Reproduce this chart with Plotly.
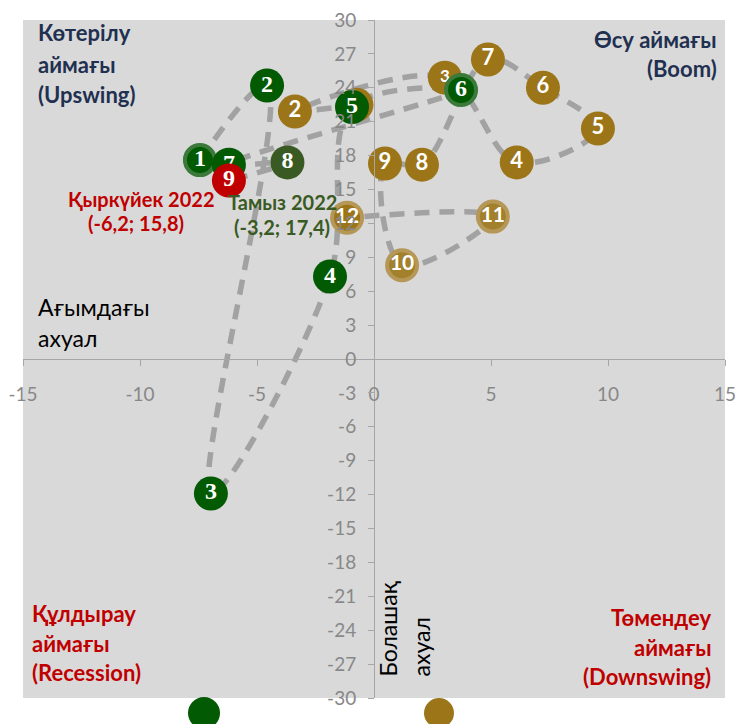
import plotly.graph_objects as go

# ---------------- data ----------------
green_labels = ["1", "2", "3", "4", "5", "6", "7", "8", "9"]
green_x = [-7.44, -4.57, -6.97, -1.88, -0.94, 3.72, -6.2, -3.7, -6.2]
green_y = [17.6, 24.2, -11.9, 7.3, 22.3, 23.8, 17.2, 17.4, 15.8]

gold_labels = ["1", "2", "3", "4", "5", "6", "7", "8", "9", "10", "11", "12"]
gold_x = [-0.75, -3.38, 3.03, 6.1, 9.57, 7.22, 4.87, 2.05, 0.47, 1.2, 5.08, -1.15]
gold_y = [22.5, 21.9, 24.9, 17.4, 20.4, 24.0, 26.5, 17.2, 17.3, 8.3, 12.6, 12.5]

x_ticks = [-15, -10, -5, 0, 5, 10, 15]
y_ticks = list(range(-30, 31, 3))

# ---------------- styling ----------------
W, H = 737, 724
PL, PR, PT, PB = 23, 725, 20, 698  # plot area in pixels


def xp(px):
    return (px - PL) / (PR - PL)


def yp(py):
    return (PB - py) / (PB - PT)


GREEN = "#025A02"
GREEN8 = "#3A5A24"
RED = "#C00000"
GOLD = "#9B7518"
LINE = "#A2A2A2"
SANS = "Lato, 'Noto Sans', sans-serif"
SERIF = "'Liberation Serif', 'DejaVu Serif', serif"

green_fill = [GREEN, GREEN, GREEN, GREEN, GREEN, GREEN, GREEN, GREEN8, RED]
green_ring = ["#3C7A3C", GREEN, GREEN, GREEN, GREEN,
              "#3C7A3C", GREEN, GREEN8, RED]
green_rw = [4, 0, 0, 0, 0, 4, 0, 0, 0]
green_sz = [30, 34, 34, 34, 34, 30, 34, 34, 34]

gold_fill = [GOLD] * 9 + ["#A2802C", "#A2802C", GOLD]
gold_ring = [GOLD] * 9 + ["#B59857"] * 3
gold_rw = [0] * 9 + [4, 4, 4]
gold_sz = [34] * 9 + [30, 30, 30]
gold_fs = [22, 22, 17, 22, 22, 22, 22, 22, 22, 21, 21, 21]

fig = go.Figure()

line_style = dict(color=LINE, width=5.5, dash="15px,10px", shape="spline", smoothing=1)
fig.add_trace(go.Scatter(x=gold_x, y=gold_y, mode="lines", line=line_style,
                         hoverinfo="skip", showlegend=False))
fig.add_trace(go.Scatter(x=green_x, y=green_y, mode="lines", line=line_style,
                         hoverinfo="skip", showlegend=False))

fig.add_trace(go.Scatter(
    x=gold_x, y=gold_y, mode="markers+text", text=gold_labels,
    textposition="middle center",
    textfont=dict(family=SANS, size=gold_fs, color="white", weight="bold"),
    marker=dict(color=gold_fill, size=gold_sz, opacity=1,
                line=dict(color=gold_ring, width=gold_rw)),
    name="2021", showlegend=False))

n = len(green_x) - 1
fig.add_trace(go.Scatter(
    x=green_x[:n], y=green_y[:n], mode="markers+text", text=green_labels[:n],
    textposition="middle center",
    textfont=dict(family=SERIF, size=24, color="white", weight="bold"),
    marker=dict(color=green_fill[:n], size=green_sz[:n], opacity=1,
                line=dict(color=green_ring[:n], width=green_rw[:n])),
    name="2022", showlegend=False))
fig.add_trace(go.Scatter(
    x=green_x[n:], y=green_y[n:], mode="markers+text", text=green_labels[n:],
    textposition="middle center",
    textfont=dict(family=SERIF, size=24, color="white", weight="bold"),
    marker=dict(color=green_fill[n:], size=green_sz[n:], opacity=1,
                line=dict(color=green_ring[n:], width=green_rw[n:])),
    name="2022", showlegend=False))

annotations = []


def ann(text, px, py, xanchor="left", color="#1F3050", size=22, bold=True,
        family=SANS, angle=0, yanchor="middle"):
    annotations.append(dict(
        text=text, x=xp(px), y=yp(py), xref="paper", yref="paper",
        xanchor=xanchor, yanchor=yanchor, showarrow=False, textangle=angle,
        font=dict(family=family, size=size, color=color,
                  weight="bold" if bold else "normal")))


NAVY = "#1F3050"
ann("Көтерілу", 36, 33, color=NAVY)
ann("аймағы", 36, 64, color=NAVY)
ann("(Upswing)", 36, 95, color=NAVY)
ann("Өсу аймағы", 719, 40, xanchor="right", color=NAVY)
ann("(Boom)", 719, 69, xanchor="right", color=NAVY)
ann("Құлдырау", 30, 613, color=RED)
ann("аймағы", 30, 643, color=RED)
ann("(Recession)", 30, 672, color=RED)
ann("Төмендеу", 713, 617, xanchor="right", color=RED)
ann("аймағы", 713, 647, xanchor="right", color=RED)
ann("(Downswing)", 713, 676, xanchor="right", color=RED)
ann("Ағымдағы", 36, 307, color="black", size=23, bold=False)
ann("ахуал", 36, 338, color="black", size=23, bold=False)
ann("Болашақ", 387, 679, xanchor="center", yanchor="bottom", color="black",
    size=23, bold=False, angle=-90)
ann("ахуал", 420, 679, xanchor="center", yanchor="bottom", color="black",
    size=23, bold=False, angle=-90)
ann("Қыркүйек 2022", 141, 199, xanchor="center", color=RED, size=20)
ann("(-6,2; 15,8)", 136, 223, xanchor="center", color=RED, size=20)
ann("Тамыз 2022", 282, 202, xanchor="center", color=GREEN8, size=20)
ann("(-3,2; 17,4)", 282, 227, xanchor="center", color=GREEN8, size=20)

shapes = []
for cx, cy, r, col in [(204, 713, 16, GREEN), (439, 713, 15, GOLD)]:
    shapes.append(dict(type="circle", xref="paper", yref="paper",
                       x0=xp(cx - r), x1=xp(cx + r), y0=yp(cy + r), y1=yp(cy - r),
                       fillcolor=col, line=dict(width=0), layer="above"))

axis_common = dict(showgrid=False, zeroline=False, showline=True,
                   linecolor="#A6A6A6", linewidth=1, ticks="outside", ticklen=6,
                   tickcolor="#A6A6A6", tickwidth=1,
                   tickfont=dict(family=SANS, size=19, color="#888888"),
                   anchor="free", position=0.5, fixedrange=True, automargin=False)

fig.update_layout(
    width=W, height=H,
    margin=dict(l=PL, r=W - PR, t=PT, b=H - PB, pad=0, autoexpand=False),
    paper_bgcolor="white", plot_bgcolor="#D9D9D9",
    xaxis=dict(range=[-15, 15], tickvals=x_ticks, ticktext=[str(v) for v in x_ticks],
               ticklabelstandoff=12, **axis_common),
    yaxis=dict(range=[-30, 30], tickvals=y_ticks, ticktext=[str(v) for v in y_ticks],
               ticklabelstandoff=8, **axis_common),
    annotations=annotations, shapes=shapes, showlegend=False,
)

fig.write_html(
    "out.html",
    config={"displayModeBar": False},
    post_script="document.body.style.margin='0';document.body.style.overflow='hidden';",
)
